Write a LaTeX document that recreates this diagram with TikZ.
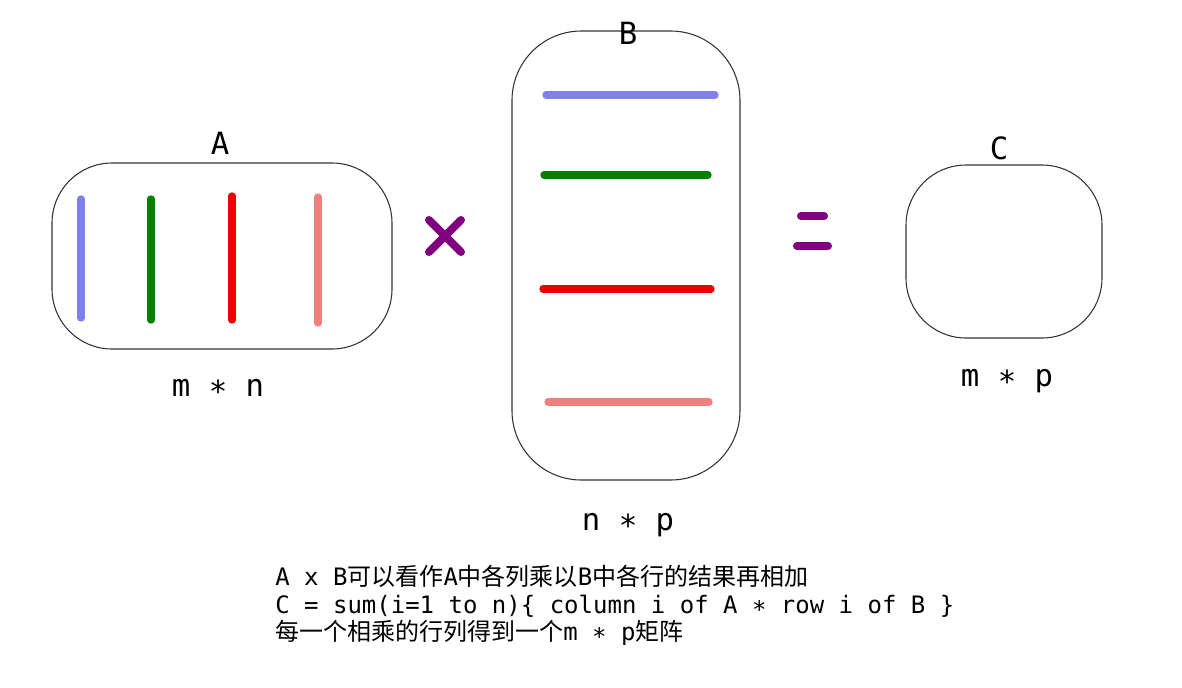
\documentclass[tikz,border=0pt]{standalone}
\usepackage{fontspec}
\setmainfont{DejaVu Sans Mono}
\newfontfamily\cjk{Noto Sans CJK SC}
\definecolor{lblue}{HTML}{8080E8}
\definecolor{dgreen}{HTML}{008000}
\definecolor{bred}{HTML}{F00000}
\definecolor{pinkr}{HTML}{F08080}
\definecolor{purp}{HTML}{800080}
\tikzset{
  mbox/.style={draw=black!80, line width=0.8pt},
  bar/.style={line width=5.5pt, line cap=round},
  sym/.style={line width=6pt, line cap=round, purp},
  big/.style={font=\fontsize{23pt}{26pt}\selectfont, inner sep=0pt},
  note/.style={font=\fontsize{18pt}{20.7pt}\selectfont, inner sep=0pt, align=left, anchor=north west}
}
\begin{document}
\begin{tikzpicture}[x=0.75pt,y=-0.75pt]
\useasboundingbox (0,0) rectangle (1182,687);
\fill[white] (0,0) rectangle (1182,687);
% box A
\draw[mbox, rounded corners=45] (52,163) rectangle (392,349);
\node[big] (la) at (220,143) {A};
\node[big] (sa) at (218,388) {m ∗ n};
\coordinate (a1t) at (81,199); \coordinate (a1b) at (81,318);
\coordinate (a2t) at (151,199); \coordinate (a2b) at (151,320);
\coordinate (a3t) at (232,196); \coordinate (a3b) at (232,320);
\coordinate (a4t) at (318,197); \coordinate (a4b) at (318,323);
\draw[bar, lblue] (a1t) -- (a1b);
\draw[bar, dgreen] (a2t) -- (a2b);
\draw[bar, bred] (a3t) -- (a3b);
\draw[bar, pinkr] (a4t) -- (a4b);
% times
\coordinate (x1) at (429,220); \coordinate (x2) at (461,252);
\coordinate (x3) at (461,220); \coordinate (x4) at (429,252);
\draw[sym] (x1) -- (x2);
\draw[sym] (x3) -- (x4);
% box B
\draw[mbox, rounded corners=52] (512,31) rectangle (740,480);
\node[big] (lb) at (628,33) {B};
\node[big] (sb) at (628,525) {n ∗ p};
\coordinate (b1l) at (546,95); \coordinate (b1r) at (715,95);
\coordinate (b2l) at (544,175); \coordinate (b2r) at (708,175);
\coordinate (b3l) at (543,289); \coordinate (b3r) at (711,289);
\coordinate (b4l) at (548,402); \coordinate (b4r) at (709,402);
\draw[bar, lblue] (b1l) -- (b1r);
\draw[bar, dgreen] (b2l) -- (b2r);
\draw[bar, bred] (b3l) -- (b3r);
\draw[bar, pinkr] (b4l) -- (b4r);
% equals
\coordinate (e1l) at (801,216); \coordinate (e1r) at (824,216);
\coordinate (e2l) at (797,246); \coordinate (e2r) at (828,246);
\draw[sym] (e1l) -- (e1r);
\draw[sym] (e2l) -- (e2r);
% box C
\draw[mbox, rounded corners=45] (906,165) rectangle (1102,338);
\node[big] (lc) at (999,148) {C};
\node[big] (sc) at (1007,381) {m ∗ p};
% note
\node[note] (nt) at (275,565) {A x B{\cjk 可以看作}A{\cjk 中各列乘以}B{\cjk 中各行的结果再相加}\\C = sum(i=1 to n)\{ column i of A ∗ row i of B \}\\{\cjk 每一个相乘的行列得到一个}m ∗ p{\cjk 矩阵}};
\end{tikzpicture}
\end{document}
